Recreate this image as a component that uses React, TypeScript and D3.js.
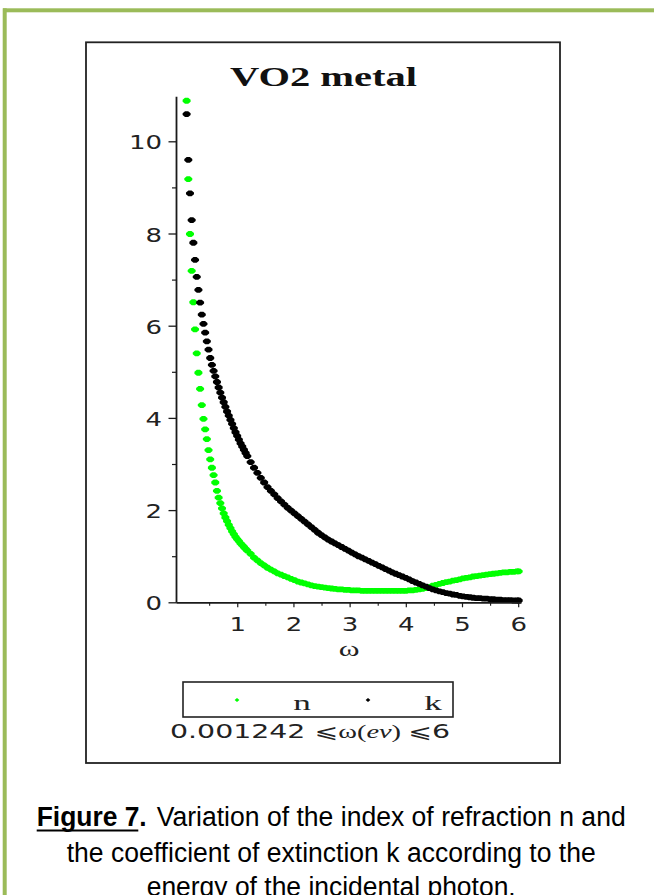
import React from "react";
import * as d3 from "d3";

// photon energy samples (eV) read from the plotted points
const omega = [
  0.09, 0.12, 0.15, 0.18, 0.21, 0.24, 0.27, 0.3, 0.33, 0.36, 0.39, 0.42, 0.45, 0.48, 0.51, 0.54,
  0.57, 0.6, 0.63, 0.66, 0.69, 0.72, 0.75, 0.78, 0.81, 0.84, 0.87, 0.9, 0.93, 0.96, 0.99, 1.02,
  1.05, 1.08, 1.11, 1.14, 1.17,
  1.23, 1.29, 1.35, 1.41, 1.47, 1.53, 1.59, 1.65, 1.71, 1.77, 1.83, 1.89, 1.95,
  2.01, 2.07, 2.13, 2.19, 2.25, 2.31, 2.37, 2.43, 2.49, 2.55, 2.61, 2.67, 2.73, 2.79, 2.85, 2.91, 2.97,
  3.03, 3.09, 3.15, 3.21, 3.27, 3.33, 3.39, 3.45, 3.51, 3.57, 3.63, 3.69, 3.75, 3.81, 3.87, 3.93, 3.99,
  4.05, 4.11, 4.17, 4.23, 4.29, 4.35, 4.41, 4.47, 4.53, 4.59, 4.65, 4.71, 4.77, 4.83, 4.89, 4.95,
  5.01, 5.07, 5.13, 5.19, 5.25, 5.31, 5.37, 5.43, 5.49, 5.55, 5.61, 5.67, 5.73, 5.79, 5.85, 5.91, 5.97,
  6.0,
];

// index of refraction n
const nValues = [
  10.89, 9.19, 8.0, 7.2, 6.52, 5.93, 5.41, 4.99, 4.64, 4.29, 3.99, 3.76, 3.55, 3.31, 3.11, 2.93,
  2.77, 2.61, 2.43, 2.28, 2.16, 2.05, 1.94, 1.85, 1.77, 1.69, 1.62, 1.55, 1.49, 1.43, 1.38, 1.34,
  1.29, 1.25, 1.21, 1.17, 1.13,
  1.06, 0.98, 0.92, 0.86, 0.81, 0.76, 0.72, 0.68, 0.64, 0.61, 0.58, 0.55, 0.52,
  0.49, 0.46, 0.44, 0.42, 0.4, 0.38, 0.36, 0.35, 0.34, 0.33, 0.32, 0.31, 0.3, 0.29, 0.29, 0.28, 0.28,
  0.27, 0.27, 0.27, 0.26, 0.26, 0.26, 0.26, 0.26, 0.26, 0.26, 0.26, 0.26, 0.26, 0.26, 0.26, 0.26, 0.26,
  0.27, 0.27, 0.28, 0.29, 0.3, 0.32, 0.34, 0.37, 0.39, 0.41, 0.43, 0.45, 0.46, 0.48, 0.49, 0.51,
  0.53, 0.54, 0.55, 0.57, 0.58, 0.59, 0.6, 0.61, 0.62, 0.63, 0.64, 0.65, 0.66, 0.66, 0.67, 0.67, 0.68,
  0.68,
];

// coefficient of extinction k
const kValues = [
  10.6, 9.61, 8.88, 8.3, 7.81, 7.44, 7.07, 6.79, 6.51, 6.25, 6.05, 5.86, 5.67, 5.49, 5.31, 5.16,
  5.03, 4.91, 4.79, 4.67, 4.56, 4.45, 4.35, 4.25, 4.15, 4.06, 3.97, 3.88, 3.79, 3.7, 3.62, 3.54,
  3.46, 3.39, 3.32, 3.25, 3.18,
  3.05, 2.93, 2.82, 2.71, 2.61, 2.51, 2.43, 2.35, 2.27, 2.2, 2.13, 2.06, 2.0,
  1.94, 1.88, 1.82, 1.76, 1.7, 1.64, 1.58, 1.52, 1.47, 1.42, 1.37, 1.33, 1.29, 1.25, 1.21, 1.17, 1.13,
  1.09, 1.05, 1.01, 0.98, 0.94, 0.91, 0.87, 0.84, 0.8, 0.77, 0.73, 0.7, 0.66, 0.63, 0.6, 0.57, 0.54,
  0.51, 0.47, 0.44, 0.41, 0.38, 0.35, 0.32, 0.29, 0.27, 0.25, 0.23, 0.21, 0.2, 0.18, 0.17, 0.15,
  0.14, 0.13, 0.12, 0.11, 0.1, 0.1, 0.09, 0.09, 0.08, 0.08, 0.07, 0.07, 0.06, 0.06, 0.06, 0.05, 0.05,
  0.05,
];

const yTickLabels = [0, 2, 4, 6, 8, 10];
const yMinorTicks = [1, 3, 5, 7, 9];
const xTickLabels = [1, 2, 3, 4, 5, 6];
const xMinorTicks = [0.5, 1.5, 2.5, 3.5, 4.5, 5.5];
const seriesNames = ["n", "k"];
const seriesColors = ["#00ff00", "#000000"];
const chartTitle = "VO2 metal";
const xAxisLabel = "ω";
const captionBold = "Figure 7.";
const captionLines = [
  "Variation of the index of refraction n and",
  "the coefficient of extinction k according to the",
  "energy of the incidental photon.",
];

export default function App() {
  const W = 654;
  const H = 895;
  const x = d3.scaleLinear().domain([-0.09, 6.05]).range([176.5, 521.5]);
  const y = d3.scaleLinear().domain([0, 11]).range([602.8, 95.7]);
  // Maple-style point glyph: small blob, a bit wider than tall
  const marker = "M-4,-0.9L-1.6,-2.9L1.6,-2.9L4,-0.9L4,0.9L1.6,2.9L-1.6,2.9L-4,0.9Z";
  const smallDiamond = "M-2.4,0L0,-1.9L2.4,0L0,1.9Z";
  const series = [nValues, kValues];
  const axisColor = "#1a1a1a";
  const tickFont = "DejaVu Sans, Verdana, sans-serif";
  const serif = "Liberation Serif, Times New Roman, serif";
  const sans = "Liberation Sans Narrow, Liberation Sans, Arial, sans-serif";

  return (
    <svg
      width={W}
      height={H}
      style={{ position: "absolute", left: 0, top: 0, background: "#fff" }}
    >
      <defs>
        <filter id="soft" x="-5%" y="-5%" width="110%" height="110%">
          <feGaussianBlur stdDeviation="0.45" />
        </filter>
      </defs>
      <rect x={0} y={0} width={W} height={H} fill="#fff" />
      {/* page border */}
      <rect x={3} y={8.3} width={W - 3} height={4} fill="#9bbb59" />
      <rect x={2.7} y={8.3} width={4} height={H - 8.3} fill="#9bbb59" />

      {/* plot frame */}
      <rect x={86} y={42.3} width={474} height={720.7} fill="none" stroke="#222" strokeWidth={1.8} />

      {/* title */}
      <text
        x={230}
        y={86}
        fontFamily={serif}
        fontWeight="bold"
        fontSize={28}
        textLength={187}
        lengthAdjust="spacingAndGlyphs"
        fill="#111"
      >
        {chartTitle}
      </text>

      {/* data points */}
      {series.map((vals, si) => (
        <g key={si} fill={seriesColors[si]} filter="url(#soft)">
          {omega.map((w, i) =>
            vals[i] <= 11 ? (
              <path key={i} d={marker} transform={`translate(${x(w)},${y(vals[i])})`} />
            ) : null
          )}
        </g>
      ))}

      {/* axes */}
      <line x1={x.range()[0]} x2={x.range()[0]} y1={y(11) + 1} y2={y(0)} stroke={axisColor} strokeWidth={1.8} />
      <line x1={x.range()[0]} x2={x.range()[1]} y1={y(0)} y2={y(0)} stroke={axisColor} strokeWidth={1.8} />

      {/* y ticks */}
      {yTickLabels.map((v) => (
        <g key={"yt" + v}>
          <line x1={x.range()[0] - 8} x2={x.range()[0]} y1={y(v)} y2={y(v)} stroke={axisColor} strokeWidth={1.3} />
          <text
            transform={`translate(162,${y(v) + 7.5}) scale(1.3,1)`}
            textAnchor="end"
            fontFamily={tickFont}
            fontSize={20}
            fill="#222"
          >
            {v}
          </text>
        </g>
      ))}
      {yMinorTicks.map((v) => (
        <line key={"ym" + v} x1={x.range()[0] - 4.5} x2={x.range()[0]} y1={y(v)} y2={y(v)} stroke={axisColor} strokeWidth={1.2} />
      ))}

      {/* x ticks */}
      {xTickLabels.map((v) => (
        <g key={"xt" + v}>
          <line x1={x(v)} x2={x(v)} y1={y(0)} y2={y(0) + 4.5} stroke={axisColor} strokeWidth={1.2} />
          <text
            transform={`translate(${x(v)},631) scale(1.3,1)`}
            textAnchor="middle"
            fontFamily={tickFont}
            fontSize={20}
            fill="#222"
          >
            {v}
          </text>
        </g>
      ))}
      {xMinorTicks.map((v) => (
        <line key={"xm" + v} x1={x(v)} x2={x(v)} y1={y(0)} y2={y(0) + 3} stroke={axisColor} strokeWidth={1.1} />
      ))}

      {/* x axis label */}
      <text
        transform={`translate(${(x.range()[0] + x.range()[1]) / 2},656) scale(1.5,1)`}
        textAnchor="middle"
        fontFamily={serif}
        fontSize={21}
        fill="#222"
      >
        {xAxisLabel}
      </text>

      {/* legend */}
      <rect x={183} y={682} width={270} height={35} fill="none" stroke="#222" strokeWidth={1.6} />
      <path d={smallDiamond} transform="translate(237,700)" fill={seriesColors[0]} />
      <path d={smallDiamond} transform="translate(368,700)" fill={seriesColors[1]} />
      <text transform="translate(302,710) scale(1.6,1)" textAnchor="middle" fontFamily={serif} fontSize={22} fill="#222">
        {seriesNames[0]}
      </text>
      <text transform="translate(433,710) scale(1.6,1)" textAnchor="middle" fontFamily={serif} fontSize={22} fill="#222">
        {seriesNames[1]}
      </text>

      {/* range note */}
      <text
        x={170}
        y={738}
        fontFamily={tickFont}
        fontSize={19}
        textLength={280}
        lengthAdjust="spacingAndGlyphs"
        fill="#222"
      >
        <tspan>0.001242 ⩽</tspan>
        <tspan fontFamily={serif}>ω(</tspan>
        <tspan fontFamily={serif} fontStyle="italic">ev</tspan>
        <tspan fontFamily={serif}>) </tspan>
        <tspan>⩽6</tspan>
      </text>

      {/* caption */}
      <text
        x={36.7}
        y={826}
        fontFamily={sans}
        fontWeight="bold"
        fontSize={27}
        textLength={110}
        lengthAdjust="spacingAndGlyphs"
        fill="#000"
      >
        {captionBold}
      </text>
      <line x1={36.7} x2={138.3} y1={830.5} y2={830.5} stroke="#000" strokeWidth={2} />
      <text
        x={156.7}
        y={826}
        fontFamily={sans}
        fontSize={27}
        textLength={469}
        lengthAdjust="spacingAndGlyphs"
        fill="#000"
      >
        {captionLines[0]}
      </text>
      <text
        x={66.7}
        y={862}
        fontFamily={sans}
        fontSize={27}
        textLength={529}
        lengthAdjust="spacingAndGlyphs"
        fill="#000"
      >
        {captionLines[1]}
      </text>
      <text
        x={146.7}
        y={896}
        fontFamily={sans}
        fontSize={27}
        textLength={369}
        lengthAdjust="spacingAndGlyphs"
        fill="#000"
      >
        {captionLines[2]}
      </text>
    </svg>
  );
}
